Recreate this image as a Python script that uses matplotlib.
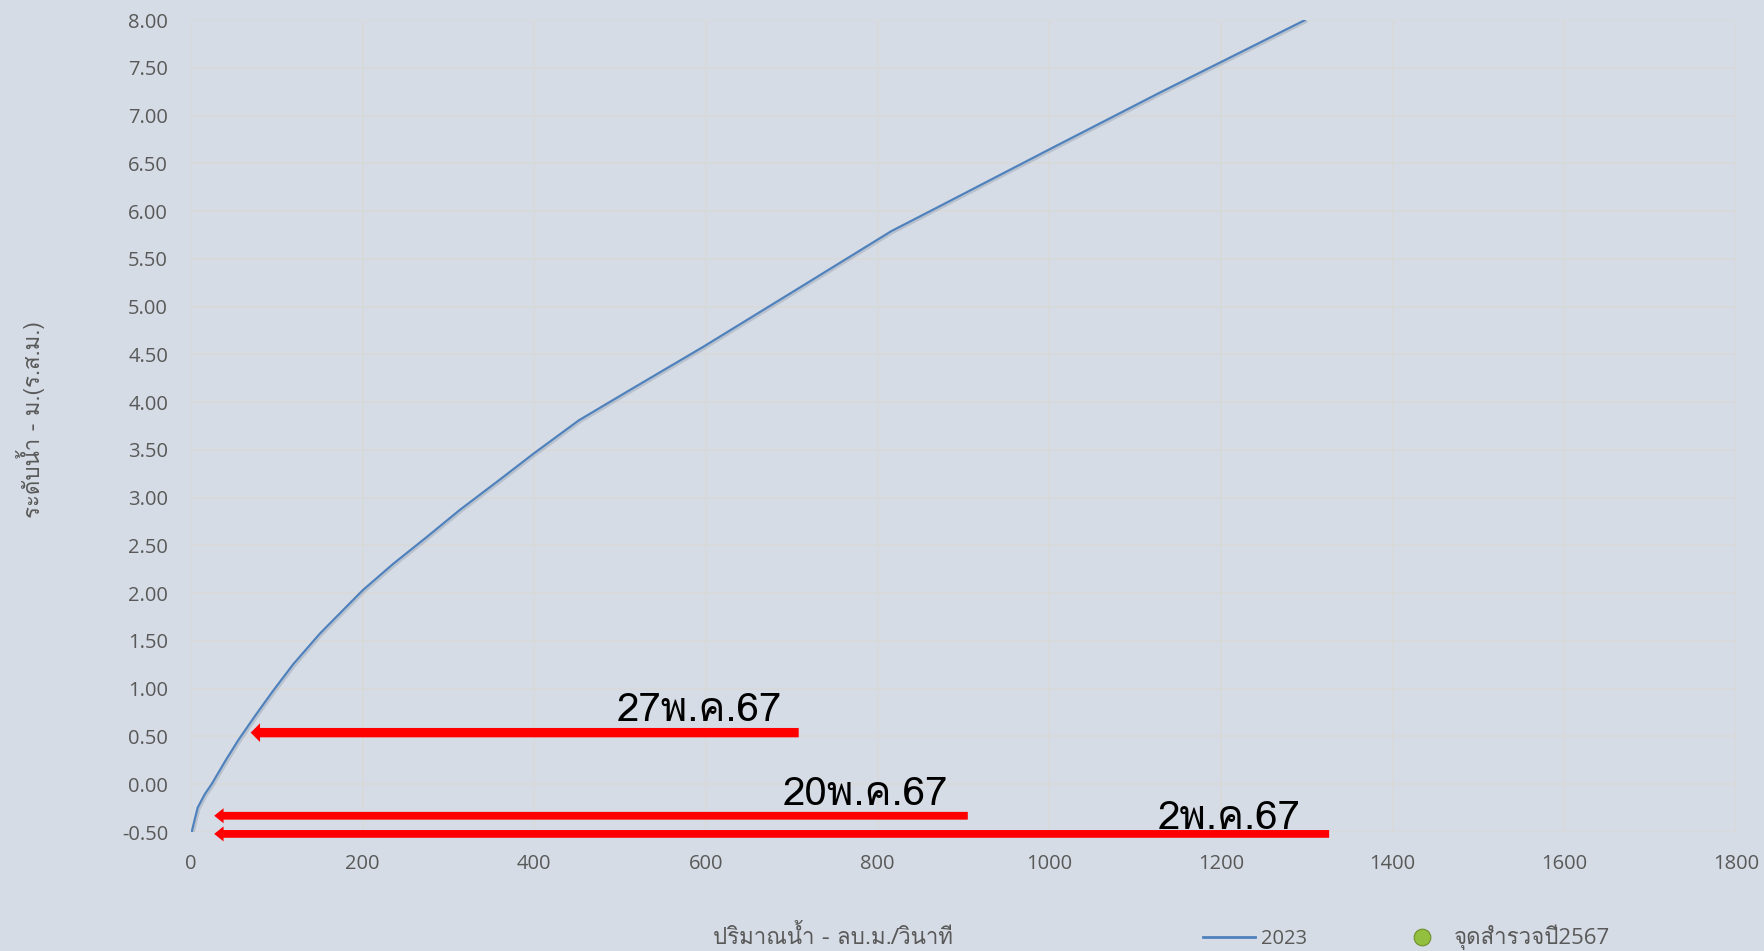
import matplotlib
matplotlib.use("Agg")
import matplotlib.pyplot as plt
from matplotlib import font_manager
from matplotlib.ft2font import FT2Font
from matplotlib.lines import Line2D
import matplotlib.patheffects as pe

# ---------------- data ----------------
discharge = [0.8, 3.9, 7.8, 16, 24, 40, 55, 75, 95, 119, 150, 178, 200, 236,
             275, 313, 360, 399, 452, 512, 597, 704, 816, 870, 1001, 1131, 1298]
stage = [-0.50, -0.385, -0.245, -0.105, 0.0, 0.244, 0.46, 0.72, 0.97, 1.255,
         1.575, 1.83, 2.03, 2.31, 2.59, 2.87, 3.19, 3.46, 3.81, 4.13, 4.58,
         5.17, 5.79, 6.04, 6.65, 7.25, 8.0]
series_name = "2023"
survey_name = "จุดสำรวจปี2567"

arrow_labels = ["27พ.ค.67", "20พ.ค.67", "2พ.ค.67"]
arrow_level = [0.54, -0.33, -0.52]
arrow_from_q = [708, 905, 1326]
arrow_to_q = [69.5, 27, 27]

x_ticks = [0, 200, 400, 600, 800, 1000, 1200, 1400, 1600, 1800]
y_ticks = [-0.5, 0.0, 0.5, 1.0, 1.5, 2.0, 2.5, 3.0, 3.5, 4.0, 4.5, 5.0, 5.5,
           6.0, 6.5, 7.0, 7.5, 8.0]
x_title = "ปริมาณน้ำ - ลบ.ม./วินาที"
y_title = "ระดับน้ำ - ม.(ร.ส.ม.)"

# ---------------- fonts ----------------
def has_thai(path):
    try:
        return 0x0E01 in FT2Font(path).get_charmap()
    except Exception:
        return False

thai_fams = []
for fe in font_manager.fontManager.ttflist:
    if fe.name not in thai_fams and has_thai(fe.fname):
        thai_fams.append(fe.name)

latin = "Open Sans"
fam_ui = [latin] + thai_fams + ["DejaVu Sans"]
fam_big = thai_fams + ["DejaVu Sans"]
plt.rcParams["font.family"] = fam_ui

# ---------------- styles ----------------
BG = "#D6DCE5"
GRID = "#D9D9D9"
TXT = "#595959"
LINE = "#4F81BD"

W, H = 1764, 951
fig = plt.figure(figsize=(W / 100, H / 100), dpi=100, facecolor=BG)
ax = fig.add_axes([191 / W, (H - 832) / H, (1736 - 191) / W, (832 - 20) / H])
ax.set_facecolor(BG)

ax.plot(discharge, stage, color=LINE, lw=1.6, solid_capstyle="round",
        solid_joinstyle="round",
        path_effects=[pe.SimpleLineShadow(offset=(1.2, -1.2), shadow_color="#8090a0", alpha=0.35),
                      pe.Normal()], zorder=3)

ax.set_xlim(0, 1800)
ax.set_ylim(-0.5, 8.0)
ax.set_xticks(x_ticks)
ax.set_yticks(y_ticks)
ax.set_xticklabels([str(v) for v in x_ticks])
ax.set_yticklabels([f"{v:.2f}" for v in y_ticks])
ax.tick_params(axis="both", length=0, labelsize=14.5, labelcolor=TXT)
ax.tick_params(axis="y", pad=16.5)
ax.tick_params(axis="x", pad=16)
ax.grid(True, color=GRID, lw=1.2, zorder=0)
ax.set_axisbelow(True)
for s in ax.spines.values():
    s.set_visible(False)

ax.set_xlabel(x_title, fontsize=16, color=TXT, family=fam_big)
ax.xaxis.set_label_coords((833 - 191) / (1736 - 191), -(937 - 832) / (832 - 20))
ax.xaxis.label.set_va("center")
ax.set_ylabel(y_title, fontsize=16, color=TXT, family=fam_big)
ax.yaxis.set_label_coords(-(191 - 31) / (1736 - 191), (832 - 420) / (832 - 20))
ax.yaxis.label.set_va("center")

# arrows with labels
shaft = [0.75, 0.62, 0.62]
headw = [1.5, 1.2, 1.2]
label_off = [(-17, 12), (-20, 11), (-29, 5)]
for lab, yv, q0, q1, sw, hw, off in zip(arrow_labels, arrow_level, arrow_from_q,
                                         arrow_to_q, shaft, headw, label_off):
    ax.annotate("", xy=(q1, yv), xytext=(q0, yv), annotation_clip=False,
                arrowprops=dict(arrowstyle=f"simple,head_length=0.75,head_width={hw},tail_width={sw}",
                                mutation_scale=9, fc="#FF0000", ec="none", lw=0,
                                shrinkA=0, shrinkB=0), zorder=4)
    ax.annotate(lab, xy=(q0, yv), xytext=(off[0] * 0.72, off[1] * 0.72),
                textcoords="offset points", ha="right", va="baseline",
                annotation_clip=False,
                fontsize=29, color="black", family=fam_big, zorder=5)

# legend
h1 = Line2D([], [], color=LINE, lw=2)
h2 = Line2D([], [], ls="none", marker="o", markersize=12,
            markerfacecolor="#93BF3E", markeredgecolor="#6E8F2A", markeredgewidth=0.8)
leg = fig.legend([h1, h2], [series_name, survey_name], loc="center left",
                 bbox_to_anchor=(1203 / W, (H - 937) / H), ncol=2, frameon=False,
                 fontsize=14.5, labelcolor=TXT, handlelength=2.58, handletextpad=0.3,
                 columnspacing=4.4, borderaxespad=0, borderpad=0)
leg.get_texts()[1].set_fontsize(16)

fig.savefig("out.png", dpi=100, facecolor=BG)
